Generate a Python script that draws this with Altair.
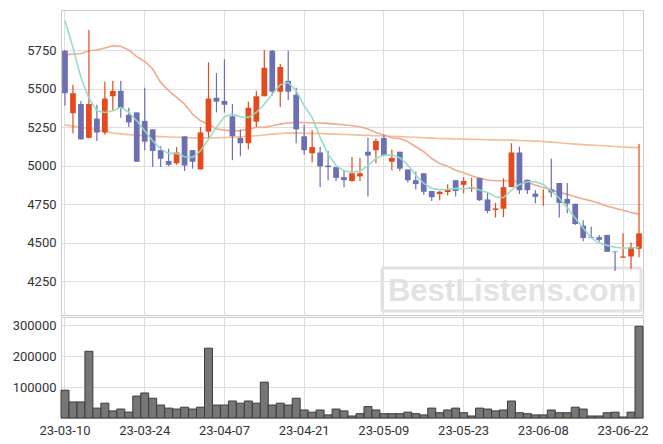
import altair as alt
import pandas as pd

dates = [
    "23-03-10", "23-03-13", "23-03-14", "23-03-15", "23-03-16", "23-03-17",
    "23-03-20", "23-03-21", "23-03-22", "23-03-23", "23-03-24",
    "23-03-27", "23-03-28", "23-03-29", "23-03-30", "23-03-31",
    "23-04-03", "23-04-04", "23-04-05", "23-04-06", "23-04-07",
    "23-04-10", "23-04-11", "23-04-12", "23-04-13", "23-04-14",
    "23-04-17", "23-04-18", "23-04-19", "23-04-20", "23-04-21",
    "23-04-24", "23-04-25", "23-04-26", "23-04-27", "23-04-28",
    "23-05-02", "23-05-03", "23-05-04", "23-05-08", "23-05-09",
    "23-05-10", "23-05-11", "23-05-12", "23-05-15", "23-05-16",
    "23-05-17", "23-05-18", "23-05-19", "23-05-22", "23-05-23",
    "23-05-24", "23-05-25", "23-05-26", "23-05-30", "23-05-31",
    "23-06-01", "23-06-02", "23-06-05", "23-06-07", "23-06-08",
    "23-06-09", "23-06-12", "23-06-13", "23-06-14", "23-06-15",
    "23-06-16", "23-06-19", "23-06-20", "23-06-21", "23-06-22",
    "23-06-23", "23-06-26",
]

opens = [5745, 5340, 5400, 5180, 5305, 5215, 5450, 5485, 5330, 5345,
         5290, 5235, 5100, 5030, 5015, 5190, 5100, 4975, 5220, 5440,
         5420, 5320, 5180, 5145, 5285, 5450, 5745, 5480, 5550, 5460,
         5190, 5080, 5085, 5000, 4990, 4925, 4900, 4930, 5090, 5100,
         5180, 5025, 5090, 4975, 4905, 4950, 4835, 4815, 4828, 4905,
         4875, 4850, 4920, 4780, 4712, 4720, 4860, 5085, 4908, 4818,
         4795, 4845, 4887, 4783, 4753, 4610, 4537, 4535, 4550, 4442,
         4402, 4410, 4460]
highs = [5750, 5525, 5420, 5880, 5395, 5545, 5550, 5550, 5375, 5345,
         5505, 5235, 5125, 5110, 5120, 5190, 5100, 5250, 5670, 5600,
         5690, 5400, 5235, 5415, 5485, 5750, 5750, 5660, 5745, 5505,
         5265, 5230, 5120, 5095, 4990, 4965, 5055, 5050, 5180, 5175,
         5200, 5105, 5090, 4975, 4960, 4950, 4835, 4835, 4878, 4905,
         4925, 4920, 4921, 4825, 4758, 4917, 5145, 5123, 4908, 4840,
         4845, 5045, 4887, 4887, 4753, 4645, 4603, 4550, 4550, 4442,
         4560, 4500, 5140]
lows = [5390, 5210, 5170, 5175, 5160, 5200, 5360, 5310, 5250, 5025,
        5100, 4990, 4990, 4995, 5005, 4965, 4980, 4975, 5180, 5345,
        5345, 5035, 5060, 5105, 5250, 5450, 5455, 5380, 5425, 5145,
        5070, 5020, 4860, 4905, 4900, 4860, 4895, 4900, 4800, 5015,
        5060, 4970, 4965, 4890, 4845, 4810, 4770, 4775, 4805, 4800,
        4820, 4830, 4770, 4690, 4663, 4665, 4860, 4815, 4815, 4755,
        4740, 4795, 4663, 4690, 4615, 4508, 4530, 4505, 4440, 4315,
        4400, 4330, 4405]
closes = [5470, 5470, 5170, 5400, 5215, 5435, 5485, 5375, 5280, 5025,
          5155, 5095, 5045, 5005, 5085, 5000, 5025, 5215, 5435, 5415,
          5395, 5190, 5145, 5375, 5450, 5635, 5480, 5640, 5480, 5235,
          5100, 5120, 4995, 4990, 4920, 4905, 4950, 4950, 5065, 5160,
          5065, 5050, 4980, 4905, 4880, 4830, 4795, 4830, 4843, 4835,
          4900, 4860, 4775, 4705, 4722, 4860, 5085, 4840, 4840, 4797,
          4797, 4825, 4758, 4753, 4620, 4530, 4532, 4518, 4440, 4438,
          4410, 4470, 4560]
volumes = [90000, 52000, 52000, 216000, 32000, 48000, 23000, 29000, 19000, 71000,
           81000, 64000, 42000, 32000, 29000, 35000, 29000, 35000, 226000, 42000,
           42000, 55000, 48000, 55000, 48000, 116000, 42000, 48000, 42000, 64000,
           26000, 19000, 26000, 10000, 29000, 23000, 6500, 14000, 37000, 26000,
           14000, 14000, 14000, 19000, 14000, 10000, 32000, 17000, 26000, 32000,
           17000, 6500, 32000, 29000, 23000, 26000, 55000, 17000, 14000, 10000,
           10000, 26000, 17000, 17000, 35000, 29000, 6500, 6500, 17000, 19000,
           3200, 19000, 297000]
ma_short = [5940, 5767, 5572, 5438, 5356, 5345, 5356, 5378, 5345, 5291,
            5226, 5161, 5107, 5079, 5079, 5057, 5053, 5096, 5170, 5248,
            5317, 5334, 5317, 5313, 5345, 5399, 5464, 5525, 5540, 5486,
            5388, 5313, 5183, 5075, 4999, 4966, 4955, 4964, 4999, 5046,
            5068, 5068, 5051, 5003, 4938, 4884, 4852, 4843, 4845, 4852,
            4848, 4857, 4841, 4826, 4798, 4792, 4841, 4878, 4895, 4895,
            4878, 4835, 4788, 4728, 4659, 4594, 4530, 4497, 4482, 4470,
            4465, 4465, 4470]
ma_mid = [5718, 5724, 5728, 5746, 5750, 5763, 5778, 5774, 5750, 5707,
          5676, 5627, 5540, 5486, 5443, 5399, 5334, 5291, 5269, 5237,
          5230, 5226, 5226, 5237, 5248, 5248, 5259, 5269, 5276, 5280,
          5280, 5276, 5276, 5274, 5269, 5265, 5259, 5252, 5237, 5215,
          5198, 5181, 5176, 5155, 5122, 5090, 5046, 5014, 4995, 4970,
          4953, 4934, 4917, 4906, 4902, 4902, 4900, 4895, 4891, 4874,
          4857, 4841, 4826, 4814, 4798, 4783, 4771, 4755, 4736, 4723,
          4710, 4695, 4685]
ma_long = [5263, 5256, 5249, 5241, 5232, 5222, 5212, 5206, 5201, 5197,
           5194, 5191, 5188, 5186, 5184, 5182, 5180, 5180, 5180, 5181,
           5182, 5184, 5187, 5190, 5194, 5199, 5204, 5208, 5211, 5211,
           5210, 5209, 5208, 5206, 5204, 5202, 5200, 5198, 5196, 5194,
           5192, 5190, 5188, 5186, 5184, 5181, 5178, 5176, 5175, 5173,
           5172, 5170, 5169, 5168, 5167, 5166, 5165, 5163, 5161, 5159,
           5156, 5152, 5148, 5143, 5139, 5136, 5133, 5130, 5127, 5124,
           5121, 5118, 5116]

label_dates = ["23-03-10", "23-03-24", "23-04-07", "23-04-21",
               "23-05-09", "23-05-23", "23-06-08", "23-06-22"]
price_ticks = [4250, 4500, 4750, 5000, 5250, 5500, 5750]
volume_ticks = [100000, 200000, 300000]
watermark = ["BestListens.com"]

RED = "#e64a1c"
BLUE = "#6c70b2"

df = pd.DataFrame({
    "date": dates, "open": opens, "high": highs, "low": lows,
    "close": closes, "volume": volumes,
    "ma_short": ma_short, "ma_mid": ma_mid, "ma_long": ma_long,
})
df["dir"] = ["up" if c >= o else "down" for o, c in zip(opens, closes)]

W = 582
H_TOP = 305
H_VOL = 101

x_top = alt.X("date:O", sort=None,
              scale=alt.Scale(domain=dates, paddingInner=0, paddingOuter=0),
              axis=alt.Axis(values=label_dates, labels=False, ticks=False,
                            domain=False, grid=True, title=None, bandPosition=0.5))
y_price = alt.Scale(domain=[4030, 6010], nice=False, zero=False)
color = alt.Color("dir:N", scale=alt.Scale(domain=["up", "down"], range=[RED, BLUE]),
                  legend=None)

base = alt.Chart(df)

wicks = base.mark_rule(strokeWidth=1.2).encode(
    x=x_top,
    y=alt.Y("low:Q", scale=y_price,
            axis=alt.Axis(values=price_ticks, format="d", title=None, grid=True)),
    y2="high:Q",
    color=color,
)
bodies = base.mark_bar(width=alt.RelativeBandSize(0.72)).encode(
    x=x_top,
    y=alt.Y("open:Q", scale=y_price),
    y2="close:Q",
    color=color,
)
line_long = base.mark_line(strokeWidth=1.6, color="#f2bb92", opacity=0.95).encode(
    x=x_top, y=alt.Y("ma_long:Q", scale=y_price))
line_mid = base.mark_line(strokeWidth=1.6, color="#efa688", opacity=0.95).encode(
    x=x_top, y=alt.Y("ma_mid:Q", scale=y_price))
line_short = base.mark_line(strokeWidth=1.6, color="#93dbc2", opacity=0.95).encode(
    x=x_top, y=alt.Y("ma_short:Q", scale=y_price))

wm_df = pd.DataFrame({"t": watermark})
wm_box = alt.Chart(wm_df).mark_rect(
    fill="white", fillOpacity=0.0, stroke="#e2e2e2", strokeWidth=3, cornerRadius=2
).encode(x=alt.value(321), x2=alt.value(580), y=alt.value(258), y2=alt.value(301))
wm_text = alt.Chart(wm_df).mark_text(
    font="Liberation Sans", fontWeight="bold", fontSize=31, color="#e2e2e2",
    align="center", baseline="alphabetic"
).encode(x=alt.value(451), y=alt.value(291), text="t:N")

top = alt.layer(wm_box, wm_text, line_long, line_mid, wicks, bodies, line_short).properties(
    width=W, height=H_TOP)

vol = base.mark_bar(fill="#767676", stroke="#3c3c3c", strokeWidth=1).encode(
    x=alt.X("date:O", sort=None,
            scale=alt.Scale(domain=dates, paddingInner=0, paddingOuter=0),
            axis=alt.Axis(values=label_dates, ticks=False, domain=True, grid=True,
                          title=None, labelAngle=0, bandPosition=0.5, labelPadding=6)),
    y=alt.Y("volume:Q", scale=alt.Scale(domain=[0, 327000], nice=False),
            axis=alt.Axis(values=volume_ticks, format="d", title=None, grid=True)),
).properties(width=W, height=H_VOL)

chart = alt.vconcat(top, vol, spacing=0).resolve_scale(
    x="independent", y="independent", color="independent"
).properties(
    padding={"left": 3, "top": 1, "right": 5, "bottom": 5}
).configure_view(
    stroke="#cccccc"
).configure_axis(
    gridColor="#dedede", domainColor="#cccccc", labelColor="#333333",
    labelFont="Roboto", labelFontSize=13, ticks=False, labelPadding=5
)

chart.save("out.html", embed_options={"renderer": "svg", "actions": False})
